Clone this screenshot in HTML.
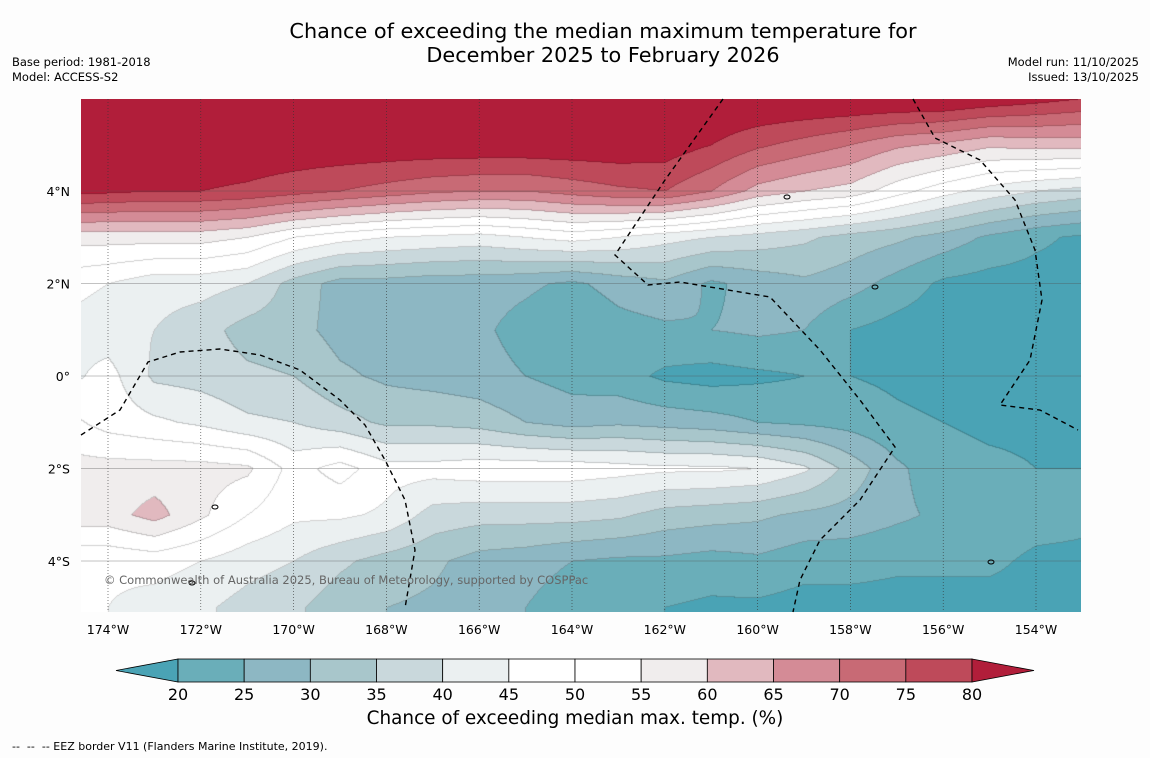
<!DOCTYPE html>
<html><head><meta charset="utf-8"><style>
body{margin:0;background:#fdfdfd;font-family:"DejaVu Sans","Liberation Sans",sans-serif;}
#wrap{position:relative;width:1150px;height:758px;overflow:hidden;background:#fdfdfd;}
.t{position:absolute;color:#000;white-space:nowrap;}
</style></head><body>
<div id="wrap">
<div class="t" style="left:0;width:1206px;top:19px;text-align:center;font-size:20.8px;line-height:24px;">Chance of exceeding the median maximum temperature for<br>December 2025 to February 2026</div>
<div class="t" style="left:12px;top:55px;font-size:11.5px;line-height:15px;">Base period: 1981-2018<br>Model: ACCESS-S2</div>
<div class="t" style="right:11px;top:55px;font-size:11.5px;line-height:15px;text-align:right;">Model run: 11/10/2025<br>Issued: 13/10/2025</div>
<canvas id="map" width="1000" height="513" style="position:absolute;left:81px;top:99px;"></canvas>
<svg id="ov" width="1150" height="758" style="position:absolute;left:0;top:0;"></svg>
<div class="t" style="left:104px;top:573px;font-size:11.5px;color:#666;">© Commonwealth of Australia 2025, Bureau of Meteorology, supported by COSPPac</div>
<div class="t" style="left:0;width:1150px;top:708px;text-align:center;font-size:18.4px;">Chance of exceeding median max. temp. (%)</div>
<div class="t" style="left:12px;top:740px;font-size:11px;">--&nbsp; --&nbsp; -- EEZ border V11 (Flanders Marine Institute, 2019).</div>
</div>
<script>
const lons=[-175,-174,-173,-172,-171,-170,-169,-168,-167,-166,-165,-164,-163,-162,-161,-160,-159,-158,-157,-156,-155,-154,-153];
const lats=[6,5,4,3,2,1,0,-1,-2,-3,-4,-5];
const row6N=[86,86,86,86,86,86,86,86,86,86,86,86,86,86,86,86,86,86,86,86,84,82,80];
const row5N=[84,84,84,84,84,84,84,84,84,84,84,84,84,83,80,76,73,70,66,64,61,62,62];
const row4N=[82,81,80,80,79,77,75,73,71,70,70,72,74,75,70,63,60,58,52,47,43,40,38];
const row3N=[57,57,57,57,55,50,47,45,44,43,45,47,45,42,40,38,36,33,31,28,24,21,19];
const row2N=[47,45,42,42,40,33,28,28,27,27,26,24,27,29,24,27,29,27,23,19,18,18,18];
const row1N=[44,42,40,37,33,32,28,27,26,26,23,20,23,24,25,26,25,20,18,17,17,17,17];
const row0=[43,47,39,38,36,35,31,29,28,27,25,23,22,19,18,19,20,20,19,18,17,17,17];
const row1S=[52,48,46,44,41,40,37,34,34,33,30,28,29,28,27,25,24,23,21,20,19,19,18];
const row2S=[57,57,57,57,56,48,52,47,47,48,48,48,47,46,46,45,41,33,26,22,21,20,20];
const row3S=[58,58,62,56,50,46,46,44,38,37,37,37,36,33,32,31,29,28,26,24,23,22,21];
const row4S=[46,46,47,45,42,40,36,33,31,28,27,25,24,24,23,24,22,22,21,21,21,19,19];
const row5S=[46,45,43,41,38,36,32,30,29,27,25,22,21,20,19,19,18,18,18,18,18,18,18];
const grid=[row6N,row5N,row4N,row3N,row2N,row1N,row0,row1S,row2S,row3S,row4S,row5S];
const levels=[20,25,30,35,40,45,50,55,60,65,70,75,80];
const colors=["#4aa3b5","#6aaeb9","#8db7c3","#a8c6cb","#c9d8dc","#ebf0f1","#ffffff","#ffffff","#f0eded","#e1b9bf","#d48b96","#c86a75","#be4a5a","#b11e3a"];
const lonTicks=[-174,-172,-170,-168,-166,-164,-162,-160,-158,-156,-154];
const latTicks=[4,2,0,-2,-4];
const latLabels=["4°N","2°N","0°","2°S","4°S"];
const xOf=l=>108+(l+174)*46.4;
const yOf=a=>376-a*46.25;
const lonOf=x=>(x-108)/46.4-174;
const latOf=y=>(376-y)/46.25;
function hex(c){return [parseInt(c.substr(1,2),16),parseInt(c.substr(3,2),16),parseInt(c.substr(5,2),16)];}
const rgb=colors.map(hex);
function val(lon,lat){
 let fi=(lon-lons[0])/(lons[1]-lons[0]);fi=Math.max(0,Math.min(lons.length-1.0001,fi));
 let fj=(lats[0]-lat)/(lats[0]-lats[1]);fj=Math.max(0,Math.min(lats.length-1.0001,fj));
 const i=Math.floor(fi),j=Math.floor(fj),u=fi-i,v=fj-j;
 return grid[j][i]*(1-u)*(1-v)+grid[j][i+1]*u*(1-v)+grid[j+1][i]*(1-u)*v+grid[j+1][i+1]*u*v;
}
function band(v){let k=0;while(k<levels.length&&v>=levels[k])k++;return k;}
const cv=document.getElementById('map'),ctx=cv.getContext('2d');
const W=cv.width,H=cv.height,img=ctx.createImageData(W,H);
const bands=new Int8Array(W*H);
for(let y=0;y<H;y++)for(let x=0;x<W;x++){bands[y*W+x]=band(val(lonOf(x+81),latOf(y+99)));}
for(let y=0;y<H;y++)for(let x=0;x<W;x++){
 const b=bands[y*W+x];let c=rgb[b];
 if((x<W-1&&bands[y*W+x+1]!==b)||(y<H-1&&bands[(y+1)*W+x]!==b))c=c.map(q=>q*0.82);
 const p=(y*W+x)*4;img.data[p]=c[0];img.data[p+1]=c[1];img.data[p+2]=c[2];img.data[p+3]=255;
}
ctx.putImageData(img,0,0);
const NS='http://www.w3.org/2000/svg',ov=document.getElementById('ov');
function mk(t,a,txt){const e=document.createElementNS(NS,t);for(const k in a)e.setAttribute(k,a[k]);if(txt!==undefined)e.textContent=txt;ov.appendChild(e);return e;}
const FF='DejaVu Sans, Liberation Sans, sans-serif';
lonTicks.forEach(l=>{
 const g=mk('line',{x1:xOf(l),x2:xOf(l),y1:99,y2:612,stroke:'#333','stroke-width':0.6,'stroke-dasharray':'1,2'});
 
 
 const t=mk('text',{x:xOf(l),y:634,'text-anchor':'middle','font-size':12.5,'font-family':FF},Math.abs(l)+'°W');
 
 
});
latTicks.forEach((a,i)=>{
 const g=mk('line',{x1:81,x2:1081,y1:yOf(a),y2:yOf(a),stroke:'#555','stroke-width':0.5,opacity:0.7});
 
 
 const t=mk('text',{x:70,y:yOf(a)+5,'text-anchor':'end','font-size':12.5,'font-family':FF},latLabels[i]);
 
 
});
const eez=["M723,99 L665,180 L615,255 L648,285 L680,282 L770,297 L820,350 L860,400 L895,447 L860,500 L820,540 L800,580 L793,612",
"M913,99 L935,138 L980,160 L1015,200 L1035,250 L1042,300 L1030,360 L1000,405 L1040,410 L1078,430",
"M81,435 L120,410 L148,362 L180,352 L220,349 L260,355 L300,370 L340,400 L365,425 L385,460 L405,500 L415,550 L405,608"];
eez.forEach(d=>{const p=mk('path',{d:d,fill:'none',stroke:'#000','stroke-width':1.4,'stroke-dasharray':'5,4'});
 
 });
[[787,197],[875,287],[215,507],[192,583],[991,562]].forEach(c=>{const e=mk('ellipse',{cx:c[0],cy:c[1],rx:3,ry:2,fill:'none',stroke:'#000','stroke-width':1});
 
 });
const cbX=v=>178+(v-20)*(794/60);
const cb=mk('polygon',{points:`116,670.5 178,659 178,682`,fill:colors[0],stroke:'#000','stroke-width':0.8});


for(let k=0;k<levels.length-1;k++){
 const r=mk('rect',{x:cbX(levels[k]),y:659,width:cbX(levels[k+1])-cbX(levels[k]),height:23,fill:colors[k+1],stroke:'#000','stroke-width':0.8});
 
 
}
const cb2=mk('polygon',{points:`972,659 1034,670.5 972,682`,fill:colors[13],stroke:'#000','stroke-width':0.8});


levels.forEach(v=>{const t=mk('text',{x:cbX(v),y:700,'text-anchor':'middle','font-size':16,'font-family':FF},v);
 
 });
</script>
</body></html>
